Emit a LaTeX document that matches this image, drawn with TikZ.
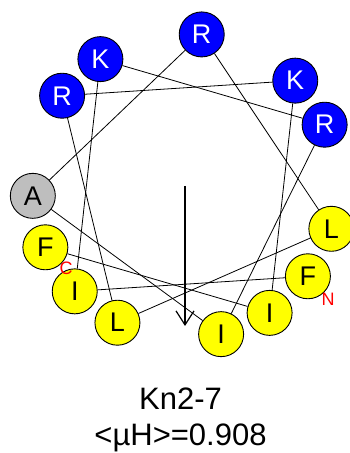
\documentclass[tikz,border=0pt]{standalone}
\usepackage{fontspec}
\setmainfont{Liberation Sans}
\usetikzlibrary{arrows.meta,backgrounds,calc}
\definecolor{resblue}{RGB}{0,0,255}
\definecolor{resyellow}{RGB}{255,255,0}
\definecolor{resgray}{RGB}{190,190,190}
\tikzset{
  res/.style={circle,draw=black,line width=0.9pt,minimum size=45pt,inner sep=0pt,font=\fontsize{27}{27}\selectfont},
  basic/.style={res,fill=resblue,text=white},
  hydro/.style={res,fill=resyellow,text=black},
  neutral/.style={res,fill=resgray,text=black},
  link/.style={draw=black,line width=0.8pt},
  term/.style={text=red,font=\fontsize{18}{18}\selectfont,inner sep=0pt},
  caption/.style={font=\fontsize{31}{31}\selectfont,anchor=base,inner sep=0pt}
}
\begin{document}
\begin{tikzpicture}[x=1pt,y=1pt]
\useasboundingbox (0,0) rectangle (349,453);
\coordinate (ctr) at (185,267);
\foreach \i/\aa/\st in {1/F/hydro,2/I/hydro,3/K/basic,4/R/basic,5/I/hydro,6/A/neutral,7/R/basic,8/L/hydro,9/L/hydro,10/R/basic,11/K/basic,12/I/hydro,13/F/hydro}{
  \pgfmathsetmacro{\ang}{-36.3-100*(\i-1)}
  \node[\st] (r\i) at ($(ctr)+(\ang:152.5)$) {\aa};
}
\begin{scope}[on background layer]
\foreach \i in {1,...,12}{
  \pgfmathtruncatemacro{\j}{\i+1}
  \draw[link] (r\i) -- (r\j);
}
\end{scope}
\coordinate (tip) at (185,127);
\draw[line width=1.2pt,-{Straight Barb[length=14pt,width=18pt,line width=1.2pt]}] (ctr) -- (tip);
\node[term] (nt) at (328,154) {N};
\node[term] (ct) at (66,185) {C};
\node[caption] (t1) at (180.5,43) {Kn2-7};
\node[caption] (t2) at (180.5,8) {<µH>=0.908};
\end{tikzpicture}
\end{document}
